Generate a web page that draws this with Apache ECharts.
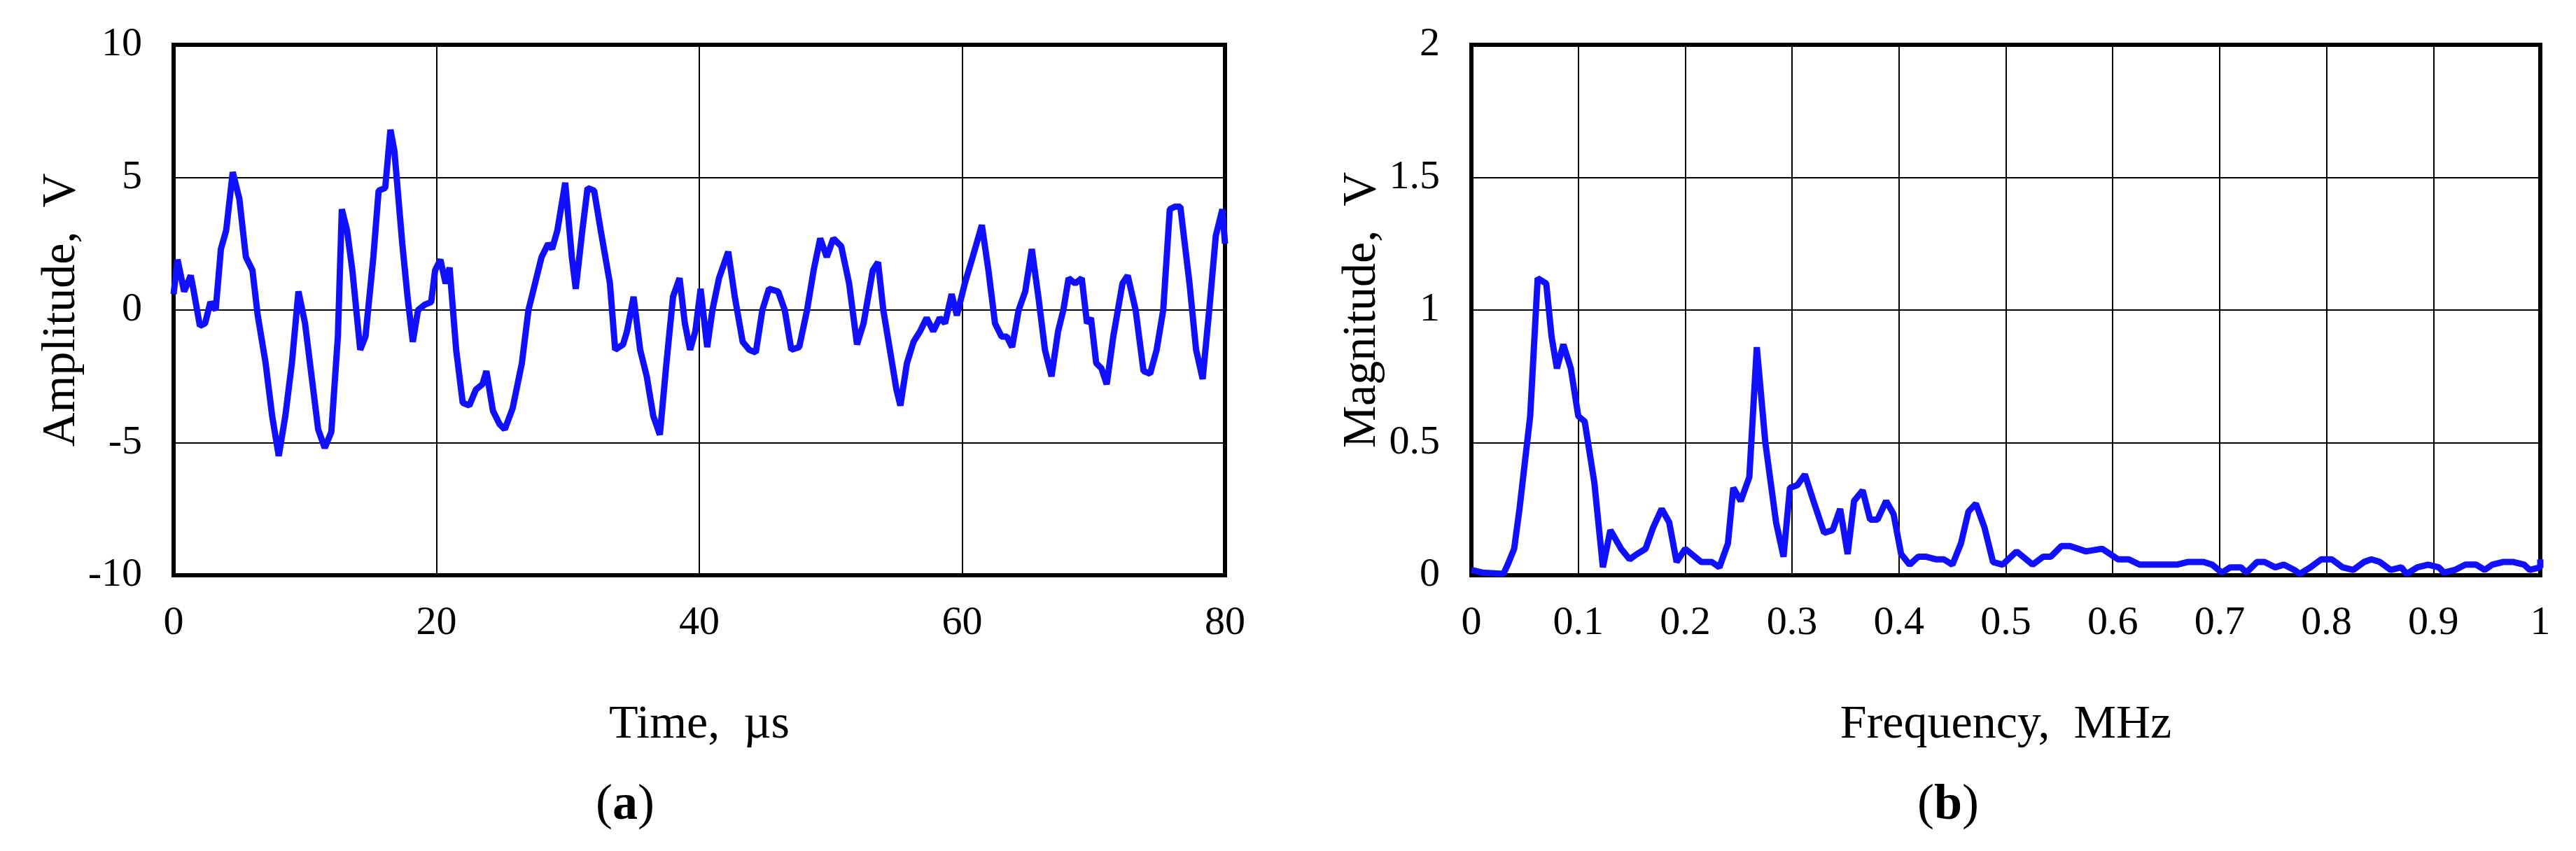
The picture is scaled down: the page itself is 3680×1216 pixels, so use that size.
<!DOCTYPE html>
<html>
<head>
<meta charset="utf-8">
<script src="https://cdn.jsdelivr.net/npm/echarts@6/dist/echarts.min.js"></script>
<style>
  html, body { margin: 0; padding: 0; background: #fff; }
  #main { width: 3680px; height: 1216px; }
</style>
</head>
<body>
<div id="main"></div>
<script>
// (a) time signal: [time µs, amplitude V]
let timeSignal = [
  [0,0.6],[0.3,1.9],[0.8,0.7],[1.3,1.3],[1.5,0.8],[2.0,-0.6],[2.4,-0.5],[2.8,0.3],[3.2,0],[3.6,2.3],
  [4.0,3.0],[4.5,5.2],[5.0,4.2],[5.5,2.0],[6.0,1.5],[6.4,-0.2],[7.0,-2.0],[7.5,-4.0],[8.0,-5.5],[8.5,-4],
  [9.0,-2],[9.5,0.7],[10,-0.5],[10.5,-2.5],[11,-4.5],[11.5,-5.2],[12,-4.6],[12.5,-1],[12.8,3.8],[13.2,3.0],
  [13.6,1.5],[14.2,-1.5],[14.6,-1],[15.2,2],[15.6,4.5],[16.1,4.6],[16.5,6.8],[16.8,6.0],[17.4,2.5],[17.8,0.5],
  [18.2,-1.2],[18.6,0],[19.1,0.2],[19.6,0.3],[19.9,1.5],[20.3,1.9],[20.7,1.0],[21,1.6],[21.5,-1.5],[22,-3.5],
  [22.5,-3.6],[23,-3.0],[23.5,-2.8],[23.8,-2.3],[24.3,-3.8],[24.8,-4.3],[25.2,-4.5],[25.8,-3.7],[26.5,-2.0],[27,0],
  [27.5,1.0],[28,2.0],[28.5,2.5],[28.8,2.3],[29.2,3.0],[29.8,4.8],[30.3,2.0],[30.6,0.8],[31.1,3.0],[31.5,4.6],
  [32,4.5],[32.5,3.0],[33.2,1.0],[33.6,-1.5],[34.2,-1.3],[34.5,-0.8],[35.0,0.5],[35.5,-1.5],[36,-2.5],[36.5,-4.0],
  [37.0,-4.7],[37.5,-2],[38,0.5],[38.5,1.2],[38.9,-0.5],[39.3,-1.5],[39.7,-0.8],[40.1,0.8],[40.6,-1.4],[41,0],
  [41.5,1.2],[42.2,2.2],[42.7,0.5],[43.3,-1.2],[43.8,-1.5],[44.3,-1.6],[44.8,0],[45.3,0.8],[46,0.7],[46.5,0],
  [47,-1.5],[47.6,-1.4],[48.2,0],[48.7,1.5],[49.2,2.7],[49.7,2.0],[50.2,2.7],[50.8,2.4],[51.4,1.0],[52,-1.3],
  [52.5,-0.5],[53.2,1.5],[53.6,1.8],[54,0],[54.5,-1.5],[55.0,-3.0],[55.3,-3.6],[55.8,-2.0],[56.3,-1.2],[56.8,-0.8],
  [57.3,-0.3],[57.8,-0.8],[58.3,-0.3],[58.7,-0.5],[59.2,0.6],[59.6,-0.2],[60.2,1.0],[60.8,2.0],[61.5,3.2],[62,1.5],
  [62.5,-0.5],[63,-1.0],[63.4,-1.0],[63.8,-1.4],[64.3,0],[64.8,0.7],[65.3,2.3],[65.8,0.5],[66.3,-1.5],[66.8,-2.5],
  [67.3,-0.8],[67.7,0],[68.1,1.2],[68.6,1.0],[69.1,1.2],[69.5,-0.5],[69.8,-0.3],[70.2,-2.0],[70.6,-2.2],[71,-2.8],
  [71.5,-1],[72.2,1.0],[72.6,1.3],[73.2,0],[73.8,-2.3],[74.3,-2.4],[74.8,-1.5],[75.3,0],[75.8,3.8],[76.2,3.9],
  [76.6,3.9],[77.3,1.0],[77.8,-1.5],[78.3,-2.6],[78.8,0],[79.3,2.8],[79.8,3.8],[80,2.5]
];

// (b) spectrum: [frequency MHz, magnitude V]
let spectrum = [
  [0,0.02],[0.01,0.01],[0.03,0.005],[0.035,0.05],[0.04,0.1],[0.045,0.25],[0.055,0.6],[0.062,1.12],[0.07,1.1],[0.075,0.9],
  [0.08,0.78],[0.086,0.87],[0.093,0.78],[0.1,0.6],[0.106,0.58],[0.115,0.35],[0.123,0.03],[0.13,0.17],[0.14,0.1],[0.148,0.06],
  [0.155,0.08],[0.163,0.1],[0.17,0.18],[0.178,0.25],[0.185,0.2],[0.192,0.05],[0.2,0.1],[0.215,0.05],[0.225,0.05],[0.232,0.03],
  [0.24,0.12],[0.245,0.33],[0.252,0.28],[0.26,0.37],[0.267,0.86],[0.275,0.5],[0.285,0.2],[0.292,0.07],[0.298,0.33],[0.305,0.34],
  [0.312,0.38],[0.32,0.28],[0.33,0.16],[0.338,0.17],[0.345,0.25],[0.352,0.08],[0.358,0.28],[0.366,0.32],[0.373,0.21],[0.38,0.21],
  [0.388,0.28],[0.395,0.23],[0.402,0.08],[0.41,0.04],[0.418,0.07],[0.425,0.07],[0.435,0.06],[0.442,0.06],[0.45,0.04],[0.458,0.12],
  [0.465,0.24],[0.472,0.27],[0.48,0.18],[0.488,0.05],[0.497,0.04],[0.51,0.09],[0.525,0.04],[0.535,0.07],[0.542,0.07],[0.552,0.11],
  [0.56,0.11],[0.575,0.09],[0.59,0.1],[0.605,0.06],[0.615,0.06],[0.625,0.04],[0.64,0.04],[0.66,0.04],[0.67,0.05],[0.685,0.05],
  [0.693,0.04],[0.702,0.01],[0.71,0.03],[0.72,0.03],[0.725,0.01],[0.735,0.05],[0.742,0.05],[0.752,0.03],[0.76,0.04],[0.77,0.02],
  [0.775,0.005],[0.785,0.03],[0.795,0.06],[0.805,0.06],[0.815,0.03],[0.825,0.02],[0.835,0.05],[0.842,0.06],[0.85,0.05],[0.86,0.02],
  [0.87,0.03],[0.875,0.005],[0.885,0.03],[0.895,0.04],[0.905,0.03],[0.91,0.01],[0.92,0.02],[0.93,0.04],[0.94,0.04],[0.948,0.02],
  [0.955,0.04],[0.965,0.05],[0.975,0.05],[0.985,0.04],[0.99,0.02],[1.0,0.03],[1.0,0.06]
];

let serif = "Liberation Serif";
let tickFont = { fontFamily: serif, fontSize: 58, color: "#000" };
let nameFont = { fontFamily: serif, fontSize: 68, color: "#000" };
let split = { show: true, lineStyle: { color: "#000", width: 2 } };

function xAx(idx, min, max, interval, name) {
  return {
    type: "value", gridIndex: idx, min: min, max: max, interval: interval,
    name: name, nameLocation: "middle", nameGap: 180, nameTextStyle: nameFont,
    axisLine: { show: false }, axisTick: { show: false },
    axisLabel: Object.assign({ margin: 40 }, tickFont),
    splitLine: split
  };
}
function yAx(idx, min, max, interval, name) {
  return {
    type: "value", gridIndex: idx, min: min, max: max, interval: interval,
    name: name, nameLocation: "middle", nameGap: 110, nameTextStyle: nameFont,
    axisLine: { show: false }, axisTick: { show: false },
    axisLabel: Object.assign({ margin: 45 }, tickFont),
    splitLine: split
  };
}

let panelLabel = {
  text: "", textAlign: "center", top: 1110,
  textStyle: { fontFamily: serif, fontSize: 72, fontWeight: "normal", color: "#000",
    rich: { b: { fontFamily: serif, fontSize: 72, fontWeight: "bold", color: "#000" } } }
};

let myChart = echarts.init(document.getElementById("main"));
myChart.setOption({
  animation: false,
  grid: [
    { left: 248, top: 64, width: 1502, height: 758, show: true, borderColor: "#000", borderWidth: 6 },
    { left: 2102, top: 64, width: 1527, height: 758, show: true, borderColor: "#000", borderWidth: 6 }
  ],
  xAxis: [
    xAx(0, 0, 80, 20, "Time,  µs"),
    xAx(1, 0, 1, 0.1, "Frequency,  MHz")
  ],
  yAxis: [
    yAx(0, -10, 10, 5, "Amplitude,  V"),
    yAx(1, 0, 2, 0.5, "Magnitude,  V")
  ],
  title: [
    Object.assign({}, panelLabel, { text: "({b|a})", left: 888 }),
    Object.assign({}, panelLabel, { text: "({b|b})", left: 2778 })
  ],
  series: [
    { type: "line", xAxisIndex: 0, yAxisIndex: 0, data: timeSignal, showSymbol: false,
      lineStyle: { color: "#1010ff", width: 9 }, z: 5 },
    { type: "line", xAxisIndex: 1, yAxisIndex: 1, data: spectrum, showSymbol: false,
      lineStyle: { color: "#1010ff", width: 9 }, z: 5 }
  ]
});
</script>
</body>
</html>
